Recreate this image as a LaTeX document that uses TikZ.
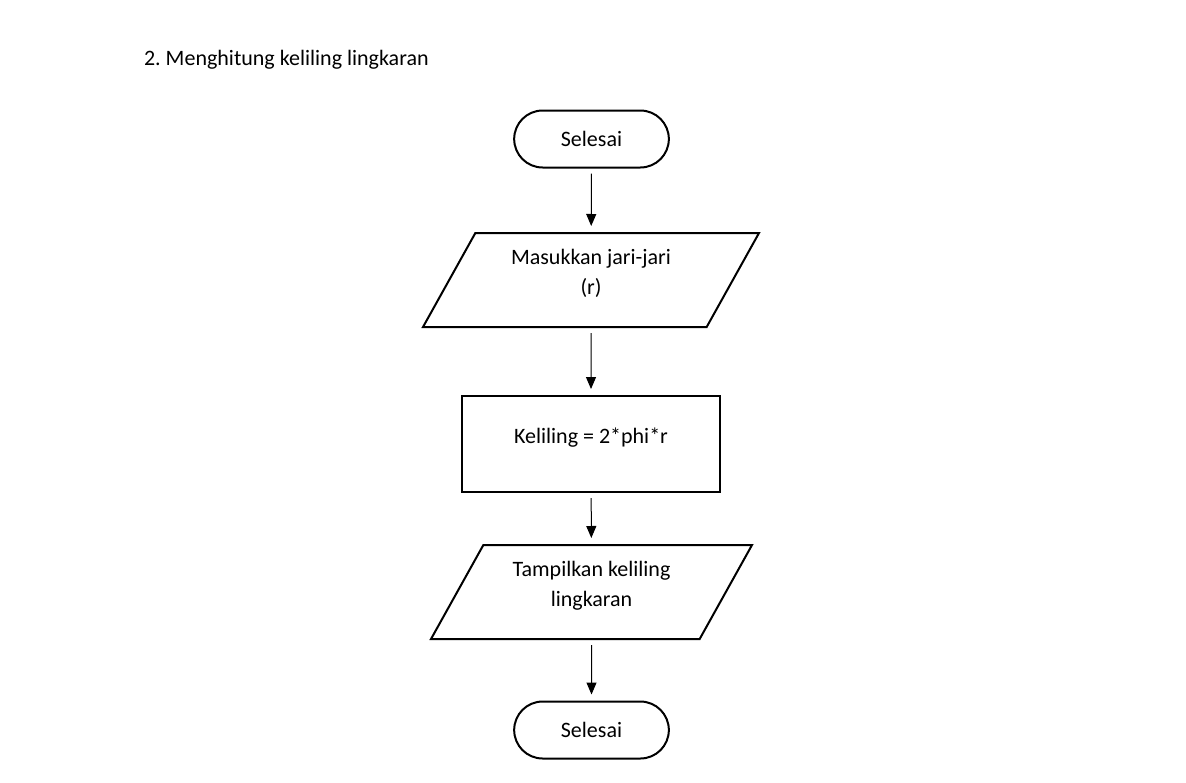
\documentclass[tikz,border=0pt]{standalone}
\usepackage{fontspec}
\setmainfont{Carlito}
\usetikzlibrary{shapes.geometric}
\usetikzlibrary{shapes.misc}
\usetikzlibrary{arrows.meta}
\usetikzlibrary{positioning}

\tikzset{
    terminal/.style={draw, line width=1pt, rounded rectangle, minimum width=84pt, minimum height=28.5pt},
    iobox/.style={draw, line width=1pt, trapezium, trapezium left angle=55.3, trapezium right angle=124.7,
        trapezium stretches body=true, minimum width=168pt, minimum height=47pt, align=center,
        text depth=8.5pt, font=\fontsize{11}{15}\selectfont},
    procbox/.style={draw, line width=1pt, minimum width=129pt, minimum height=48pt, text depth=8.3pt},
    flow/.style={-{Triangle[width=5pt,length=6pt]}, line width=0.5pt, shorten <=2.5pt, shorten >=3pt}
}

\begin{document}
\begin{tikzpicture}[x=0.5pt, y=-0.5pt, font=\fontsize{11}{15}\selectfont]
            \useasboundingbox (0,0) rectangle (1186,782);
            \node[anchor=west] (title) at (137,60) {2.\ Menghitung keliling lingkaran};
            \node[terminal] (mulai) at (591.5,139) {Selesai};
            \node[iobox] (input) at (591,280) {Masukkan jari-jari\\(r)};
            \node[procbox] (hitung) at (591,444) {Keliling = 2*phi*r};
            \node[iobox, minimum width=160.5pt] (output) at (591.5,592) {Tampilkan keliling\\lingkaran};
            \node[terminal] (selesai) at (591.5,730) {Selesai};
            \draw[flow] (mulai) -- (input);
            \draw[flow] (input) -- (hitung);
            \draw[flow] (hitung) -- (output);
            \draw[flow] (output) -- (selesai);
        \end{tikzpicture}
\end{document}
